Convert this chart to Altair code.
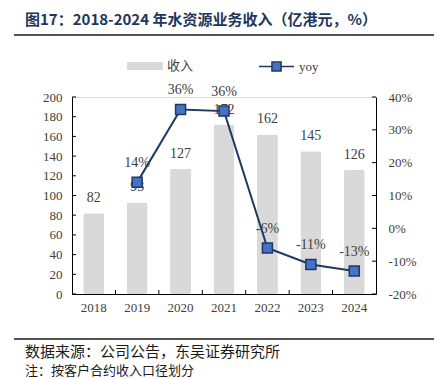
import altair as alt
import pandas as pd

years = ["2018", "2019", "2020", "2021", "2022", "2023", "2024"]
revenue = [82, 93, 127, 172, 162, 145, 126]
yoy = [None, 0.14, 0.362, 0.357, -0.06, -0.11, -0.13]
left_ticks = [0, 20, 40, 60, 80, 100, 120, 140, 160, 180, 200]
right_ticks = [-0.2, -0.1, 0.0, 0.1, 0.2, 0.3, 0.4]
title_text = "图17：2018-2024 年水资源业务收入（亿港元，%）"
source_text = "数据来源：公司公告，东吴证券研究所"
note_text = "注：按客户合约收入口径划分"

df = pd.DataFrame({"year": years, "rev": revenue, "yoy": yoy})
df["s1"] = "收入"
df["s2"] = "yoy"

W, H = 304, 197
SERIF = "Liberation Serif"
CJK = "Noto Sans CJK SC"
TXT = "#404040"
NAVY = "#1f3864"

xenc = alt.X("year:N", title=None, sort=years,
             scale=alt.Scale(paddingInner=0.0, paddingOuter=0.0),
             axis=alt.Axis(labelFont=SERIF, labelFontSize=13, labelColor=TXT,
                           labelPadding=7, ticks=False, domainColor="#000000",
                           labelAngle=0))

base = alt.Chart(df)
yrev = alt.Y("rev:Q", title=None, scale=alt.Scale(domain=[0, 200], nice=False),
             axis=alt.Axis(values=left_ticks, labelFont=SERIF, labelFontSize=13,
                           labelColor=TXT, ticks=False, labelPadding=10,
                           labelOverlap=False, labelFlush=False, grid=False,
                           domainColor="#000000"))

bar_path = "M-1,-0.22H1V0.22H-1Z"
bars = base.mark_bar(size=21, cornerRadius=2).encode(
    x=xenc, y=yrev,
    fill=alt.Fill("s1:N", scale=alt.Scale(range=["#d9d9d9"]),
                  legend=alt.Legend(title=None, orient="none", legendX=55, legendY=-49,
                                    symbolType=bar_path, symbolSize=1296,
                                    symbolStrokeWidth=0, labelFont=CJK,
                                    labelFontSize=13, labelColor=TXT,
                                    labelOffset=4, padding=0)))
bar_text = base.mark_text(baseline="bottom", dy=-8, font=SERIF, fontSize=14,
                          color=TXT).encode(
    x=xenc, y=yrev, text=alt.Text("rev:Q"))
lt = alt.Chart(pd.DataFrame({"rev": left_ticks})).mark_rule(
    color="#000000", strokeWidth=1).encode(
    y=yrev, x=alt.value(0), x2=alt.value(4))
left = alt.layer(bars, bar_text, lt)

yyoy = alt.Y("yoy:Q", title=None, scale=alt.Scale(domain=[-0.2, 0.4], nice=False),
             axis=alt.Axis(orient="right", values=right_ticks, format=".0%",
                           labelExpr="replace(datum.label, '\u2212', '-')",
                           labelFont=SERIF, labelFontSize=13, labelColor=TXT,
                           ticks=False, labelPadding=12, grid=False,
                           labelOverlap=False, labelFlush=False,
                           domainColor="#000000"))
line_path = "M-1,0H-0.26M0.26,0H1M-0.26,-0.26H0.26V0.26H-0.26Z"
valid = base.transform_filter("isValid(datum.yoy)").transform_calculate(
    lab="replace(format(datum.yoy, '.0%'), '\u2212', '-')")
line = valid.mark_line(strokeWidth=2).encode(
    x=xenc, y=yyoy,
    stroke=alt.Stroke("s2:N", scale=alt.Scale(range=[NAVY]),
                      legend=alt.Legend(title=None, orient="none", legendX=186,
                                        legendY=-49, symbolType=line_path,
                                        symbolSize=1225, symbolStrokeWidth=1.5,
                                        symbolFillColor="#4472c4",
                                        labelFont=SERIF, labelFontSize=13,
                                        labelColor=TXT, labelOffset=4, padding=0)))
points = valid.mark_point(shape="square", size=100, filled=True, fill="#4472c4",
                          stroke=NAVY, strokeWidth=1.5, opacity=1).encode(
    x=xenc, y=yyoy)
yoy_text = valid.mark_text(baseline="bottom", dy=-12, font=SERIF, fontSize=14,
                           color=TXT).encode(
    x=xenc, y=yyoy, text=alt.Text("lab:N"))
rt = alt.Chart(pd.DataFrame({"yoy": right_ticks})).mark_rule(
    color="#000000", strokeWidth=1).encode(
    y=yyoy, x=alt.value(W - 4), x2=alt.value(W))
right = alt.layer(line, points, yoy_text, rt)

xt = alt.Chart(pd.DataFrame({"year": years[1:]})).mark_rule(
    color="#000000", strokeWidth=1).encode(
    x=alt.X("year:N", sort=years, bandPosition=0), y=alt.value(H - 4), y2=alt.value(H))

one = pd.DataFrame({"t": [title_text]})
title = alt.Chart(one).mark_text(align="left", baseline="middle", font=CJK,
                                 fontSize=15, fontWeight="bold", color="#22365a").encode(
    text="t:N", x=alt.value(25 - 72), y=alt.value(20 - 97))
title_rule = alt.Chart(one).mark_rule(color="#1a1a1a", strokeWidth=1.5).encode(
    x=alt.value(14 - 72), x2=alt.value(437 - 72), y=alt.value(35 - 97))
foot_rule = alt.Chart(one).mark_rule(color="#1a1a1a", strokeWidth=1.5).encode(
    x=alt.value(14 - 72), x2=alt.value(437 - 72), y=alt.value(339 - 97))
src = alt.Chart(pd.DataFrame({"t": [source_text]})).mark_text(
    align="left", baseline="middle", font=CJK, fontSize=15, color="#1a1a1a").encode(
    text="t:N", x=alt.value(25 - 72), y=alt.value(352 - 97))
note = alt.Chart(pd.DataFrame({"t": [note_text]})).mark_text(
    align="left", baseline="middle", font=CJK, fontSize=13, color="#1a1a1a").encode(
    text="t:N", x=alt.value(25 - 72), y=alt.value(371 - 97))

chart = alt.layer(left, right, xt, title, title_rule, foot_rule, src, note).resolve_scale(
    y="independent", fill="independent", stroke="independent"
).properties(
    width=W, height=H,
    autosize=alt.AutoSizeParams(type="none"),
    padding={"left": 64, "top": 89, "right": 58, "bottom": 100},
).configure_view(stroke=None).configure(background="#ffffff")

chart.save("out.html", embed_options={"renderer": "svg", "actions": False})
